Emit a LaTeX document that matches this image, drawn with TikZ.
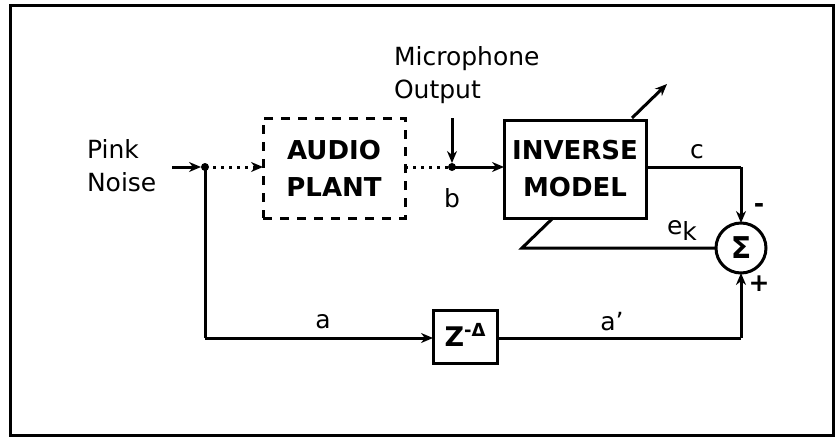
\documentclass[tikz,border=0pt]{standalone}
\usepackage{fontspec}
\setmainfont{DejaVu Sans}
\usetikzlibrary{arrows.meta}
\begin{document}
\begin{tikzpicture}[x=1pt,y=-1pt,
  every node/.style={inner sep=0pt,outer sep=0pt},
  lbl/.style={font=\fontsize{25}{33}\selectfont},
  blk/.style={draw,line width=3pt,font=\bfseries\fontsize{26}{37}\selectfont,align=center},
  wire/.style={line width=3pt},
  tip/.style={-{Stealth[length=12pt,width=10pt]}},
  arr/.style={wire,tip},
  dotw/.style={line width=3pt,dash pattern=on 3pt off 5pt},
  jdot/.style={circle,fill,minimum size=8pt}
]
\useasboundingbox (0,0) rectangle (836,437);
\draw[line width=3pt] (10,5) rectangle (833,435);

% text labels
\node[lbl,align=left,anchor=west] (pink) at (87,166) {Pink\\Noise};
\node[lbl,align=left,anchor=west] (mic) at (394,75) {Microphone\\Output};
\node[lbl] (blab) at (452,198) {b};
\node[lbl] (clab) at (697,152) {c};
\node[lbl] (eklab) at (682,230) {e\raisebox{-6pt}{k}};
\node[lbl] (alab) at (323,322) {a};
\node[lbl] (aplab) at (612,322) {a'};
\node[lbl,font=\bfseries\fontsize{25}{33}\selectfont] (minus) at (759,208) {-};
\node[lbl,font=\bfseries\fontsize{25}{33}\selectfont] (plus) at (759,284) {+};

% blocks
\node[blk,dash pattern=on 9pt off 8pt,minimum width=142pt,minimum height=100pt] (plant) at (334,168) {AUDIO\\PLANT};
\node[blk,minimum width=142pt,minimum height=98pt] (inv) at (575,169) {INVERSE\\MODEL};
\node[draw,line width=3pt,minimum width=64pt,minimum height=53pt] (zbox) at (465,336.5) {};
\node[font=\bfseries\fontsize{27}{30}\selectfont] (ztext) at ([yshift=2pt]zbox) {Z\raisebox{10pt}{\fontsize{18}{18}\selectfont -Δ}};
\node[draw,circle,line width=3pt,minimum size=50pt] (sum) at (741,248) {};
\node[font=\bfseries\fontsize{30}{30}\selectfont] (sig) at (sum) {Σ};

% coordinates
\coordinate (src) at (172,167);
\coordinate (j1) at (205,167);
\coordinate (j2) at (452,167);
\coordinate (mtop) at (452,118);
\coordinate (cc) at (741,167);
\coordinate (bl) at (205,338);
\coordinate (br) at (741,338);
\coordinate (ekend) at (522,248);
\coordinate (ekup) at (553,218);
\coordinate (adj0) at (632,118);
\coordinate (adj1) at (667,84);

\node[jdot] (d1) at (j1) {};
\node[jdot] (d2) at (j2) {};

% connectors
\draw[arr] (src) -- (d1.west);
\draw[dotw,tip] (j1) -- (plant.west |- j1);
\draw[dotw] (plant.east |- j2) -- (j2);
\draw[arr] (mtop) -- (d2.north);
\draw[arr] (j2) -- (inv.west |- j2);
\draw[wire] (inv.east |- cc) -- (cc);
\draw[arr] (cc) -- (sum.north);
\draw[wire] (sum.west) -- (ekend) -- (ekup);
\draw[wire] (j1) -- (bl);
\draw[arr] (bl) -- (zbox.west |- bl);
\draw[wire] (zbox.east |- br) -- (br);
\draw[arr] (br) -- (sum.south);
\draw[arr] (adj0) -- (adj1);
\end{tikzpicture}
\end{document}
